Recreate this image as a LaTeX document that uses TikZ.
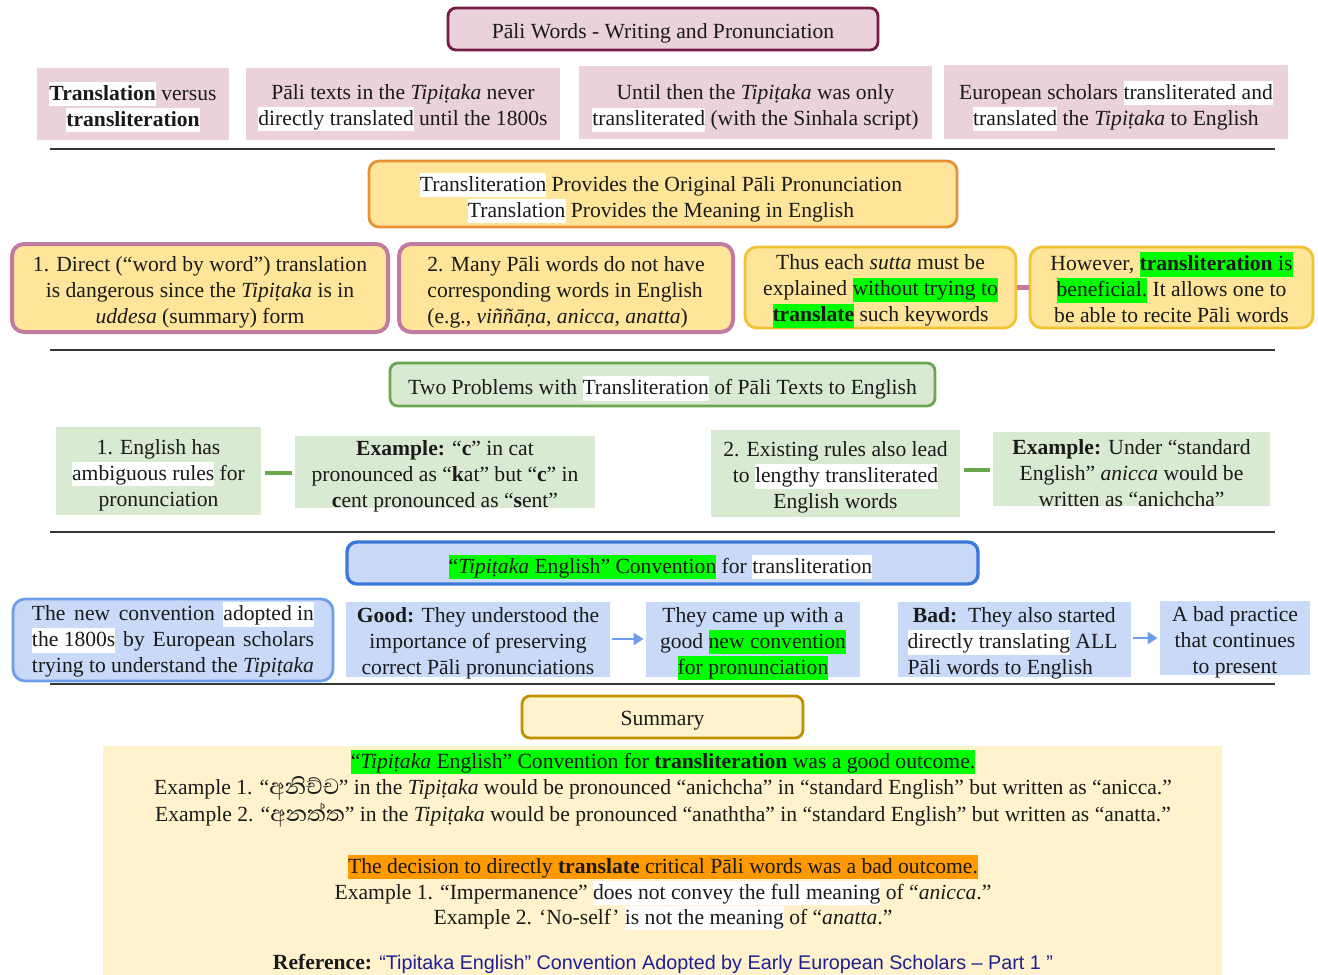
\documentclass[tikz,border=0pt]{standalone}
\usepackage{fontspec}
\setmainfont{Liberation Serif}
\newfontfamily\sinhalafont[Script=Sinhala,Scale=1.3]{Abhaya Libre}
\newfontfamily\arialf[Scale=0.915]{Liberation Sans}
\usetikzlibrary{arrows.meta}
\definecolor{txt}{HTML}{1A1A1A}
\definecolor{pinkf}{HTML}{EAD1DC}
\definecolor{maroon}{HTML}{741B47}
\definecolor{orf}{HTML}{FFE599}
\definecolor{ord}{HTML}{E69138}
\definecolor{purd}{HTML}{C27BA0}
\definecolor{goldd}{HTML}{F1C232}
\definecolor{grf}{HTML}{D9EAD3}
\definecolor{grd}{HTML}{6AA84F}
\definecolor{blf}{HTML}{C9DAF8}
\definecolor{bld}{HTML}{3C78D8}
\definecolor{bll}{HTML}{6D9EEB}
\definecolor{smf}{HTML}{FFF2CC}
\definecolor{smd}{HTML}{BF9000}
\definecolor{hgreen}{HTML}{00FF00}
\definecolor{horange}{HTML}{FF9900}
\definecolor{refblue}{HTML}{1F1F96}
\newcommand\hlbox[2]{{\setlength{\fboxsep}{0pt}\colorbox{#1}{\rule[-3pt]{0pt}{12.2pt}#2}}}
\newcommand\hw[1]{\hlbox{white}{#1}}
\newcommand\hg[1]{\hlbox{hgreen}{#1}}
\newcommand\ho[1]{\hlbox{horange}{#1}}
% \bx{name}{x1}{y1}{x2}{y2}{shape style}{text options}{text}
\newcommand\bx[8]{%
  \pgfmathsetmacro\bxw{(#4-#2)*0.5}\pgfmathsetmacro\bxh{(#5-#3)*0.5}%
  \node[#6, minimum width=\bxw pt, minimum height=\bxh pt] (#1) at ({(#2+#4)/2},{-(#3+#5)/2}) {};
  \node[yshift=-2pt, #7] (#1-t) at (#1.center) {#8};}
\tikzset{
  x=0.5pt, y=0.5pt,
  every node/.style={font=\fontsize{10.8}{13}\selectfont, text=txt, inner sep=0pt, align=center},
  titlebox/.style={fill=pinkf, draw=maroon, line width=1.4pt, rounded corners=4pt},
  pinkbox/.style={fill=pinkf},
  orangebox/.style={fill=orf, draw=ord, line width=1.4pt, rounded corners=5pt},
  purplebox/.style={fill=orf, draw=purd, line width=2pt, rounded corners=6pt},
  goldbox/.style={fill=orf, draw=goldd, line width=1.4pt, rounded corners=6pt},
  greentitle/.style={fill=grf, draw=grd, line width=1.4pt, rounded corners=4pt},
  greenbox/.style={fill=grf},
  bluetitle/.style={fill=blf, draw=bld, line width=1.7pt, rounded corners=5pt},
  blueround/.style={fill=blf, draw=bll, line width=1.4pt, rounded corners=6pt},
  bluebox/.style={fill=blf},
  sumbox/.style={fill=smf, draw=smd, line width=1.4pt, rounded corners=4pt},
  sumarea/.style={fill=smf},
  sline/.style={text height=9pt, text depth=3pt},
  rulel/.style={draw=black!78, line width=1pt},
  pinkconn/.style={draw=purd, line width=2.5pt},
  greenconn/.style={draw=grd, line width=2.2pt, shorten <=2pt, shorten >=1.5pt},
  bluearrow/.style={draw=bll, line width=1.2pt, -{Triangle[length=5pt,width=6pt]}, shorten <=1pt, shorten >=1pt}
}
\begin{document}
\begin{tikzpicture}
\useasboundingbox (0,0) rectangle (1318,-975);
% title
\bx{title}{448}{8}{878}{50}{titlebox}{}{Pāli Words - Writing and Pronunciation}
% top row
\bx{ta}{37}{68}{229}{140}{pinkbox}{yshift=0.5pt}{\hw{\textbf{Translation}} versus\\\hw{\textbf{transliteration}}}
\bx{tb}{246}{68}{560}{140}{pinkbox}{}{Pāli texts in the \textit{Tipiṭaka} never\\\hw{directly translated} until the 1800s}
\bx{tc}{579}{66}{932}{139}{pinkbox}{yshift=-1pt}{Until then the \textit{Tipiṭaka} was only\\\hw{transliterated} (with the Sinhala script)}
\bx{td}{944}{65}{1288}{139}{pinkbox}{}{European scholars \hw{transliterated and}\\\hw{translated} the \textit{Tipiṭaka} to English}
\draw[rulel] (50,-149) -- (1275,-149);
% orange section
\bx{ob}{369}{161}{957}{227}{orangebox}{xshift=-1pt}{\hw{Transliteration} Provides the Original Pāli Pronunciation\\\hw{Translation} Provides the Meaning in English}
\bx{p1}{12}{244}{388}{332}{purplebox}{}{1. Direct (“word by word”) translation\\is dangerous since the \textit{Tipiṭaka} is in\\\textit{uddesa} (summary) form}
\bx{p2}{399}{244}{733}{332}{purplebox}{align=left}{2. Many Pāli words do not have\\corresponding words in English\\(e.g., \textit{viññāṇa}, \textit{anicca}, \textit{anatta})}
\bx{p3}{745}{247}{1016}{328}{goldbox}{}{Thus each \textit{sutta} must be\\explained \hg{without trying to}\\\hg{\textbf{translate}} such keywords}
\bx{p4}{1030}{247}{1313}{328}{goldbox}{yshift=2pt}{However, \hg{\textbf{transliteration} is}\\\hg{beneficial.} It allows one to\\be able to recite Pāli words}
\draw[pinkconn] (p3) -- (p4);
\draw[rulel] (50,-350) -- (1275,-350);
% green section
\bx{gt}{390}{363}{935}{406}{greentitle}{}{Two Problems with \hw{Transliteration} of Pāli Texts to English}
\bx{g1}{56}{427}{261}{515}{greenbox}{}{1. English has\\\hw{ambiguous rules} for\\pronunciation}
\bx{g2}{295}{436}{595}{508}{greenbox}{}{\textbf{Example:} “\textbf{c}” in cat\\pronounced as “\textbf{k}at” but “\textbf{c}” in\\\textbf{c}ent pronounced as “\textbf{s}ent”}
\bx{g3}{711}{430}{960}{517}{greenbox}{}{2. Existing rules also lead\\to \hw{lengthy transliterated}\\English words}
\bx{g4}{993}{432}{1270}{506}{greenbox}{}{\textbf{Example:} Under “standard\\English” \textit{anicca} would be\\written as “anichcha”}
\draw[greenconn] (g1.east |- 0,-473) -- (g2.west |- 0,-473);
\draw[greenconn] (g3.east |- 0,-470) -- (g4.west |- 0,-470);
\draw[rulel] (50,-532) -- (1275,-532);
% blue section
\bx{bt}{347}{542}{978}{584}{bluetitle}{xshift=-1pt}{\hg{“\textit{Tipiṭaka} English” Convention} for \hw{transliteration}}
\bx{b1}{13}{599}{333}{681}{blueround}{yshift=2pt}{\makebox[141pt][s]{The new convention \hw{adopted in}}\\\makebox[141pt][s]{\hw{the 1800s} by European scholars}\\\makebox[141pt][s]{trying to understand the \textit{Tipiṭaka}}}
\bx{b2}{346}{602}{610}{677}{bluebox}{}{\textbf{Good:} They understood the\\importance of preserving\\correct Pāli pronunciations}
\bx{b3}{646}{602}{860}{677}{bluebox}{}{They came up with a\\good \hg{new convention}\\\hg{for pronunciation}}
\bx{b4}{898}{602}{1131}{677}{bluebox}{align=left, xshift=-1pt}{\ \textbf{Bad:}\ \ They also started\\\hw{directly translating} ALL\\Pāli words to English}
\bx{b5}{1160}{601}{1310}{675}{bluebox}{}{A bad practice\\that continues\\to present}
\draw[bluearrow] (b2.east |- 0,-639) -- (b3.west |- 0,-639);
\draw[bluearrow] (b4.east |- 0,-638) -- (b5.west |- 0,-638);
\draw[rulel] (50,-684) -- (1275,-684);
% summary
\bx{sm}{522}{696}{803}{738}{sumbox}{}{Summary}
\bx{sarea}{103}{746}{1222}{1000}{sumarea}{}{}
\node[sline] (s1) at (663,-762) {\hg{“\textit{Tipiṭaka} English” Convention for \textbf{transliteration} was a good outcome.}};
\node[sline] (s2) at (663,-788) {Example 1. “{\sinhalafont අනිච්ච}” in the \textit{Tipiṭaka} would be pronounced “anichcha” in “standard English” but written as “anicca.”};
\node[sline] (s3) at (663,-815) {Example 2. “{\sinhalafont අනත්ත}” in the \textit{Tipiṭaka} would be pronounced “anaththa” in “standard English” but written as “anatta.”};
\node[sline] (s4) at (663,-867) {\ho{The decision to directly \textbf{translate} critical Pāli words was a bad outcome.}};
\node[sline] (s5) at (663,-893) {Example 1. “Impermanence” \hw{does not convey the full meaning} of “\textit{anicca}.”};
\node[sline] (s6) at (663,-918) {Example 2. ‘No-self’ \hw{is not the meaning} of “\textit{anatta}.”};
\node[sline] (s7) at (663,-963) {\textbf{Reference:} {\arialf\color{refblue}“Tipitaka English” Convention Adopted by Early European Scholars – Part 1 ”}};
\end{tikzpicture}
\end{document}
